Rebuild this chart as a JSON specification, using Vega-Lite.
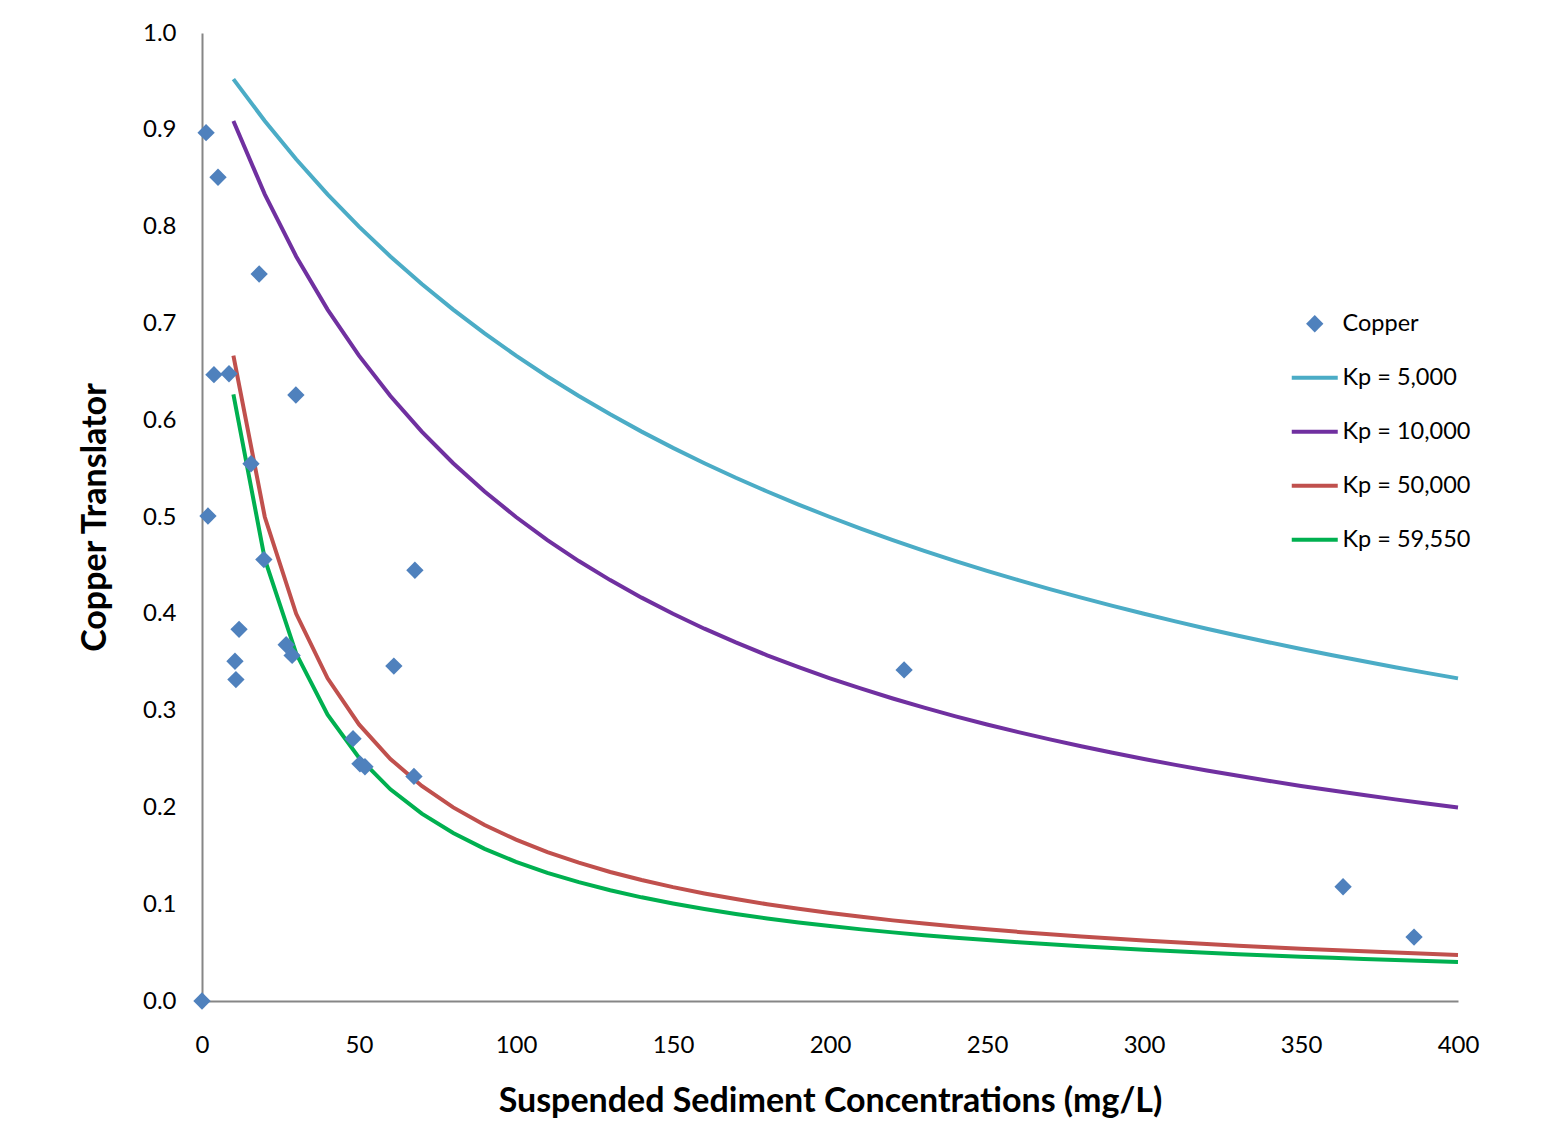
{
  "$schema": "https://vega.github.io/schema/vega-lite/v6.json",
  "width": 1256,
  "height": 968,
  "autosize": {"type": "none"},
  "padding": {"left": 202, "top": 33, "right": 98, "bottom": 128},
  "background": "white",
  "config": {
    "view": {"stroke": null},
    "font": "Lato",
    "axis": {"grid": false, "ticks": false, "domainColor": "#868686", "domainWidth": 2, "labelFont": "Lato", "labelFontSize": 24, "labelColor": "#000000", "titleFont": "Lato", "titleFontWeight": "bold", "titleFontSize": 34, "titleColor": "#000000"}
  },
  "data": {"values": [
    {"series": "Copper", "tss": 1.3, "translator": 0.897},
    {"series": "Copper", "tss": 5.1, "translator": 0.851},
    {"series": "Copper", "tss": 18.2, "translator": 0.751},
    {"series": "Copper", "tss": 3.8, "translator": 0.647},
    {"series": "Copper", "tss": 8.6, "translator": 0.648},
    {"series": "Copper", "tss": 29.9, "translator": 0.626},
    {"series": "Copper", "tss": 15.6, "translator": 0.555},
    {"series": "Copper", "tss": 1.9, "translator": 0.501},
    {"series": "Copper", "tss": 19.7, "translator": 0.456},
    {"series": "Copper", "tss": 67.8, "translator": 0.445},
    {"series": "Copper", "tss": 11.8, "translator": 0.384},
    {"series": "Copper", "tss": 10.5, "translator": 0.351},
    {"series": "Copper", "tss": 10.8, "translator": 0.332},
    {"series": "Copper", "tss": 26.8, "translator": 0.368},
    {"series": "Copper", "tss": 28.7, "translator": 0.357},
    {"series": "Copper", "tss": 61.1, "translator": 0.346},
    {"series": "Copper", "tss": 223.6, "translator": 0.342},
    {"series": "Copper", "tss": 48.1, "translator": 0.271},
    {"series": "Copper", "tss": 50.3, "translator": 0.245},
    {"series": "Copper", "tss": 51.9, "translator": 0.242},
    {"series": "Copper", "tss": 67.5, "translator": 0.232},
    {"series": "Copper", "tss": 363.4, "translator": 0.118},
    {"series": "Copper", "tss": 386.0, "translator": 0.066},
    {"series": "Copper", "tss": 0, "translator": 0},

    {"series": "Kp = 5,000", "tss": 10, "translator": 0.9524},
    {"series": "Kp = 5,000", "tss": 20, "translator": 0.9091},
    {"series": "Kp = 5,000", "tss": 30, "translator": 0.8696},
    {"series": "Kp = 5,000", "tss": 40, "translator": 0.8333},
    {"series": "Kp = 5,000", "tss": 50, "translator": 0.8},
    {"series": "Kp = 5,000", "tss": 60, "translator": 0.7692},
    {"series": "Kp = 5,000", "tss": 70, "translator": 0.7407},
    {"series": "Kp = 5,000", "tss": 80, "translator": 0.7143},
    {"series": "Kp = 5,000", "tss": 90, "translator": 0.6897},
    {"series": "Kp = 5,000", "tss": 100, "translator": 0.6667},
    {"series": "Kp = 5,000", "tss": 110, "translator": 0.6452},
    {"series": "Kp = 5,000", "tss": 120, "translator": 0.625},
    {"series": "Kp = 5,000", "tss": 130, "translator": 0.6061},
    {"series": "Kp = 5,000", "tss": 140, "translator": 0.5882},
    {"series": "Kp = 5,000", "tss": 150, "translator": 0.5714},
    {"series": "Kp = 5,000", "tss": 160, "translator": 0.5556},
    {"series": "Kp = 5,000", "tss": 170, "translator": 0.5405},
    {"series": "Kp = 5,000", "tss": 180, "translator": 0.5263},
    {"series": "Kp = 5,000", "tss": 190, "translator": 0.5128},
    {"series": "Kp = 5,000", "tss": 200, "translator": 0.5},
    {"series": "Kp = 5,000", "tss": 210, "translator": 0.4878},
    {"series": "Kp = 5,000", "tss": 220, "translator": 0.4762},
    {"series": "Kp = 5,000", "tss": 230, "translator": 0.4651},
    {"series": "Kp = 5,000", "tss": 240, "translator": 0.4545},
    {"series": "Kp = 5,000", "tss": 250, "translator": 0.4444},
    {"series": "Kp = 5,000", "tss": 260, "translator": 0.4348},
    {"series": "Kp = 5,000", "tss": 270, "translator": 0.4255},
    {"series": "Kp = 5,000", "tss": 280, "translator": 0.4167},
    {"series": "Kp = 5,000", "tss": 290, "translator": 0.4082},
    {"series": "Kp = 5,000", "tss": 300, "translator": 0.4},
    {"series": "Kp = 5,000", "tss": 310, "translator": 0.3922},
    {"series": "Kp = 5,000", "tss": 320, "translator": 0.3846},
    {"series": "Kp = 5,000", "tss": 330, "translator": 0.3774},
    {"series": "Kp = 5,000", "tss": 340, "translator": 0.3704},
    {"series": "Kp = 5,000", "tss": 350, "translator": 0.3636},
    {"series": "Kp = 5,000", "tss": 360, "translator": 0.3571},
    {"series": "Kp = 5,000", "tss": 370, "translator": 0.3509},
    {"series": "Kp = 5,000", "tss": 380, "translator": 0.3448},
    {"series": "Kp = 5,000", "tss": 390, "translator": 0.339},
    {"series": "Kp = 5,000", "tss": 400, "translator": 0.3333},

    {"series": "Kp = 10,000", "tss": 10, "translator": 0.9091},
    {"series": "Kp = 10,000", "tss": 20, "translator": 0.8333},
    {"series": "Kp = 10,000", "tss": 30, "translator": 0.7692},
    {"series": "Kp = 10,000", "tss": 40, "translator": 0.7143},
    {"series": "Kp = 10,000", "tss": 50, "translator": 0.6667},
    {"series": "Kp = 10,000", "tss": 60, "translator": 0.625},
    {"series": "Kp = 10,000", "tss": 70, "translator": 0.5882},
    {"series": "Kp = 10,000", "tss": 80, "translator": 0.5556},
    {"series": "Kp = 10,000", "tss": 90, "translator": 0.5263},
    {"series": "Kp = 10,000", "tss": 100, "translator": 0.5},
    {"series": "Kp = 10,000", "tss": 110, "translator": 0.4762},
    {"series": "Kp = 10,000", "tss": 120, "translator": 0.4545},
    {"series": "Kp = 10,000", "tss": 130, "translator": 0.4348},
    {"series": "Kp = 10,000", "tss": 140, "translator": 0.4167},
    {"series": "Kp = 10,000", "tss": 150, "translator": 0.4},
    {"series": "Kp = 10,000", "tss": 160, "translator": 0.3846},
    {"series": "Kp = 10,000", "tss": 170, "translator": 0.3704},
    {"series": "Kp = 10,000", "tss": 180, "translator": 0.3571},
    {"series": "Kp = 10,000", "tss": 190, "translator": 0.3448},
    {"series": "Kp = 10,000", "tss": 200, "translator": 0.3333},
    {"series": "Kp = 10,000", "tss": 210, "translator": 0.3226},
    {"series": "Kp = 10,000", "tss": 220, "translator": 0.3125},
    {"series": "Kp = 10,000", "tss": 230, "translator": 0.303},
    {"series": "Kp = 10,000", "tss": 240, "translator": 0.2941},
    {"series": "Kp = 10,000", "tss": 250, "translator": 0.2857},
    {"series": "Kp = 10,000", "tss": 260, "translator": 0.2778},
    {"series": "Kp = 10,000", "tss": 270, "translator": 0.2703},
    {"series": "Kp = 10,000", "tss": 280, "translator": 0.2632},
    {"series": "Kp = 10,000", "tss": 290, "translator": 0.2564},
    {"series": "Kp = 10,000", "tss": 300, "translator": 0.25},
    {"series": "Kp = 10,000", "tss": 310, "translator": 0.2439},
    {"series": "Kp = 10,000", "tss": 320, "translator": 0.2381},
    {"series": "Kp = 10,000", "tss": 330, "translator": 0.2326},
    {"series": "Kp = 10,000", "tss": 340, "translator": 0.2273},
    {"series": "Kp = 10,000", "tss": 350, "translator": 0.2222},
    {"series": "Kp = 10,000", "tss": 360, "translator": 0.2174},
    {"series": "Kp = 10,000", "tss": 370, "translator": 0.2128},
    {"series": "Kp = 10,000", "tss": 380, "translator": 0.2083},
    {"series": "Kp = 10,000", "tss": 390, "translator": 0.2041},
    {"series": "Kp = 10,000", "tss": 400, "translator": 0.2},

    {"series": "Kp = 50,000", "tss": 10, "translator": 0.6667},
    {"series": "Kp = 50,000", "tss": 20, "translator": 0.5},
    {"series": "Kp = 50,000", "tss": 30, "translator": 0.4},
    {"series": "Kp = 50,000", "tss": 40, "translator": 0.3333},
    {"series": "Kp = 50,000", "tss": 50, "translator": 0.2857},
    {"series": "Kp = 50,000", "tss": 60, "translator": 0.25},
    {"series": "Kp = 50,000", "tss": 70, "translator": 0.2222},
    {"series": "Kp = 50,000", "tss": 80, "translator": 0.2},
    {"series": "Kp = 50,000", "tss": 90, "translator": 0.1818},
    {"series": "Kp = 50,000", "tss": 100, "translator": 0.1667},
    {"series": "Kp = 50,000", "tss": 110, "translator": 0.1538},
    {"series": "Kp = 50,000", "tss": 120, "translator": 0.1429},
    {"series": "Kp = 50,000", "tss": 130, "translator": 0.1333},
    {"series": "Kp = 50,000", "tss": 140, "translator": 0.125},
    {"series": "Kp = 50,000", "tss": 150, "translator": 0.1176},
    {"series": "Kp = 50,000", "tss": 160, "translator": 0.1111},
    {"series": "Kp = 50,000", "tss": 170, "translator": 0.1053},
    {"series": "Kp = 50,000", "tss": 180, "translator": 0.1},
    {"series": "Kp = 50,000", "tss": 190, "translator": 0.0952},
    {"series": "Kp = 50,000", "tss": 200, "translator": 0.0909},
    {"series": "Kp = 50,000", "tss": 210, "translator": 0.087},
    {"series": "Kp = 50,000", "tss": 220, "translator": 0.0833},
    {"series": "Kp = 50,000", "tss": 230, "translator": 0.08},
    {"series": "Kp = 50,000", "tss": 240, "translator": 0.0769},
    {"series": "Kp = 50,000", "tss": 250, "translator": 0.0741},
    {"series": "Kp = 50,000", "tss": 260, "translator": 0.0714},
    {"series": "Kp = 50,000", "tss": 270, "translator": 0.069},
    {"series": "Kp = 50,000", "tss": 280, "translator": 0.0667},
    {"series": "Kp = 50,000", "tss": 290, "translator": 0.0645},
    {"series": "Kp = 50,000", "tss": 300, "translator": 0.0625},
    {"series": "Kp = 50,000", "tss": 310, "translator": 0.0606},
    {"series": "Kp = 50,000", "tss": 320, "translator": 0.0588},
    {"series": "Kp = 50,000", "tss": 330, "translator": 0.0571},
    {"series": "Kp = 50,000", "tss": 340, "translator": 0.0556},
    {"series": "Kp = 50,000", "tss": 350, "translator": 0.0541},
    {"series": "Kp = 50,000", "tss": 360, "translator": 0.0526},
    {"series": "Kp = 50,000", "tss": 370, "translator": 0.0513},
    {"series": "Kp = 50,000", "tss": 380, "translator": 0.05},
    {"series": "Kp = 50,000", "tss": 390, "translator": 0.0488},
    {"series": "Kp = 50,000", "tss": 400, "translator": 0.0476},

    {"series": "Kp = 59,550", "tss": 10, "translator": 0.6268},
    {"series": "Kp = 59,550", "tss": 20, "translator": 0.4564},
    {"series": "Kp = 59,550", "tss": 30, "translator": 0.3589},
    {"series": "Kp = 59,550", "tss": 40, "translator": 0.2957},
    {"series": "Kp = 59,550", "tss": 50, "translator": 0.2514},
    {"series": "Kp = 59,550", "tss": 60, "translator": 0.2187},
    {"series": "Kp = 59,550", "tss": 70, "translator": 0.1935},
    {"series": "Kp = 59,550", "tss": 80, "translator": 0.1735},
    {"series": "Kp = 59,550", "tss": 90, "translator": 0.1572},
    {"series": "Kp = 59,550", "tss": 100, "translator": 0.1438},
    {"series": "Kp = 59,550", "tss": 110, "translator": 0.1324},
    {"series": "Kp = 59,550", "tss": 120, "translator": 0.1228},
    {"series": "Kp = 59,550", "tss": 130, "translator": 0.1144},
    {"series": "Kp = 59,550", "tss": 140, "translator": 0.1071},
    {"series": "Kp = 59,550", "tss": 150, "translator": 0.1007},
    {"series": "Kp = 59,550", "tss": 160, "translator": 0.095},
    {"series": "Kp = 59,550", "tss": 170, "translator": 0.0899},
    {"series": "Kp = 59,550", "tss": 180, "translator": 0.0853},
    {"series": "Kp = 59,550", "tss": 190, "translator": 0.0812},
    {"series": "Kp = 59,550", "tss": 200, "translator": 0.0775},
    {"series": "Kp = 59,550", "tss": 210, "translator": 0.074},
    {"series": "Kp = 59,550", "tss": 220, "translator": 0.0709},
    {"series": "Kp = 59,550", "tss": 230, "translator": 0.068},
    {"series": "Kp = 59,550", "tss": 240, "translator": 0.0654},
    {"series": "Kp = 59,550", "tss": 250, "translator": 0.0629},
    {"series": "Kp = 59,550", "tss": 260, "translator": 0.0607},
    {"series": "Kp = 59,550", "tss": 270, "translator": 0.0586},
    {"series": "Kp = 59,550", "tss": 280, "translator": 0.0566},
    {"series": "Kp = 59,550", "tss": 290, "translator": 0.0547},
    {"series": "Kp = 59,550", "tss": 300, "translator": 0.053},
    {"series": "Kp = 59,550", "tss": 310, "translator": 0.0514},
    {"series": "Kp = 59,550", "tss": 320, "translator": 0.0499},
    {"series": "Kp = 59,550", "tss": 330, "translator": 0.0484},
    {"series": "Kp = 59,550", "tss": 340, "translator": 0.0471},
    {"series": "Kp = 59,550", "tss": 350, "translator": 0.0458},
    {"series": "Kp = 59,550", "tss": 360, "translator": 0.0446},
    {"series": "Kp = 59,550", "tss": 370, "translator": 0.0434},
    {"series": "Kp = 59,550", "tss": 380, "translator": 0.0423},
    {"series": "Kp = 59,550", "tss": 390, "translator": 0.0413},
    {"series": "Kp = 59,550", "tss": 400, "translator": 0.0403}
  ]},
  "encoding": {
    "x": {"field": "tss", "type": "quantitative", "scale": {"domain": [0, 400], "nice": false, "zero": false},
      "axis": {"title": "Suspended Sediment Concentrations (mg/L)", "values": [0, 50, 100, 150, 200, 250, 300, 350, 400], "labelPadding": 32, "titlePadding": 27, "labelFlush": false}},
    "y": {"field": "translator", "type": "quantitative", "scale": {"domain": [0, 1], "nice": false},
      "axis": {"title": "Copper Translator", "values": [0, 0.1, 0.2, 0.3, 0.4, 0.5, 0.6, 0.7, 0.8, 0.9, 1.0], "format": ".1f", "labelPadding": 26, "titlePadding": 30, "labelFlush": false}},
    "color": {"field": "series", "type": "nominal",
      "scale": {"domain": ["Copper", "Kp = 5,000", "Kp = 10,000", "Kp = 50,000", "Kp = 59,550"], "range": ["#4F81BD", "#4BACC6", "#7030A0", "#C0504D", "#00B050"]},
      "legend": {"title": null, "orient": "none", "legendX": 1101, "legendY": 279, "padding": 0,
        "labelFont": "Lato", "labelFontSize": 23.5, "labelColor": "#000000", "labelOffset": 16,
        "rowPadding": 29, "symbolSize": 2116, "symbolStrokeWidth": 4, "symbolType": "stroke",
        "encode": {"symbols": {"update": {
          "shape": {"signal": "datum.value === 'Copper' ? 'diamond' : 'stroke'"},
          "size": {"signal": "datum.value === 'Copper' ? 300 : 2116"},
          "fill": {"signal": "datum.value === 'Copper' ? '#4F81BD' : 'transparent'"},
          "stroke": {"signal": "datum.value === 'Copper' ? 'transparent' : scale('color', datum.value)"},
          "strokeWidth": {"signal": "datum.value === 'Copper' ? 0 : 4"},
          "opacity": {"value": 1}
        }}}}}
  },
  "layer": [
    {
      "transform": [{"filter": "datum.series !== 'Copper'"}],
      "mark": {"type": "line", "strokeWidth": 4, "interpolate": "linear", "clip": false},
      "encoding": {"detail": {"field": "series"}}
    },
    {
      "transform": [{"filter": "datum.series === 'Copper'"}],
      "mark": {"type": "point", "shape": "diamond", "filled": true, "size": 300, "opacity": 1, "clip": false}
    }
  ]
}
